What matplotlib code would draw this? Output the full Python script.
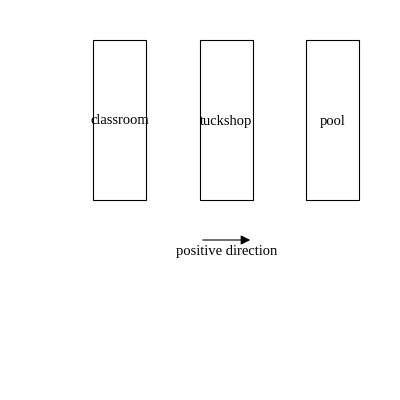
import matplotlib
matplotlib.use("Agg")
import matplotlib.pyplot as plt
from matplotlib.patches import Rectangle

places = ["classroom", "tuckshop", "pool"]
arrow_label = "positive direction"

plt.rcParams['font.family'] = ['Liberation Serif', 'DejaVu Serif']

fig = plt.figure(figsize=(4, 4), dpi=100)
ax = fig.add_axes([0, 0, 1, 1])
ax.set_xlim(0, 400)
ax.set_ylim(400, 0)
ax.axis('off')

# three boxes side by side
lefts = [93, 200, 306]
for left, name in zip(lefts, places):
    ax.add_patch(Rectangle((left, 40), 53, 160, fill=False, edgecolor='black', linewidth=0.8))
    ax.text(left + 26.5, 121, name, ha='center', va='center', fontsize=10.5)

ax.annotate("", xy=(253, 240), xytext=(200, 240),
            arrowprops=dict(arrowstyle='-|>', color='black', lw=0.8, mutation_scale=14))
ax.text(227, 252, arrow_label, ha='center', va='center', fontsize=10.5)

fig.savefig("out.png", dpi=100)
